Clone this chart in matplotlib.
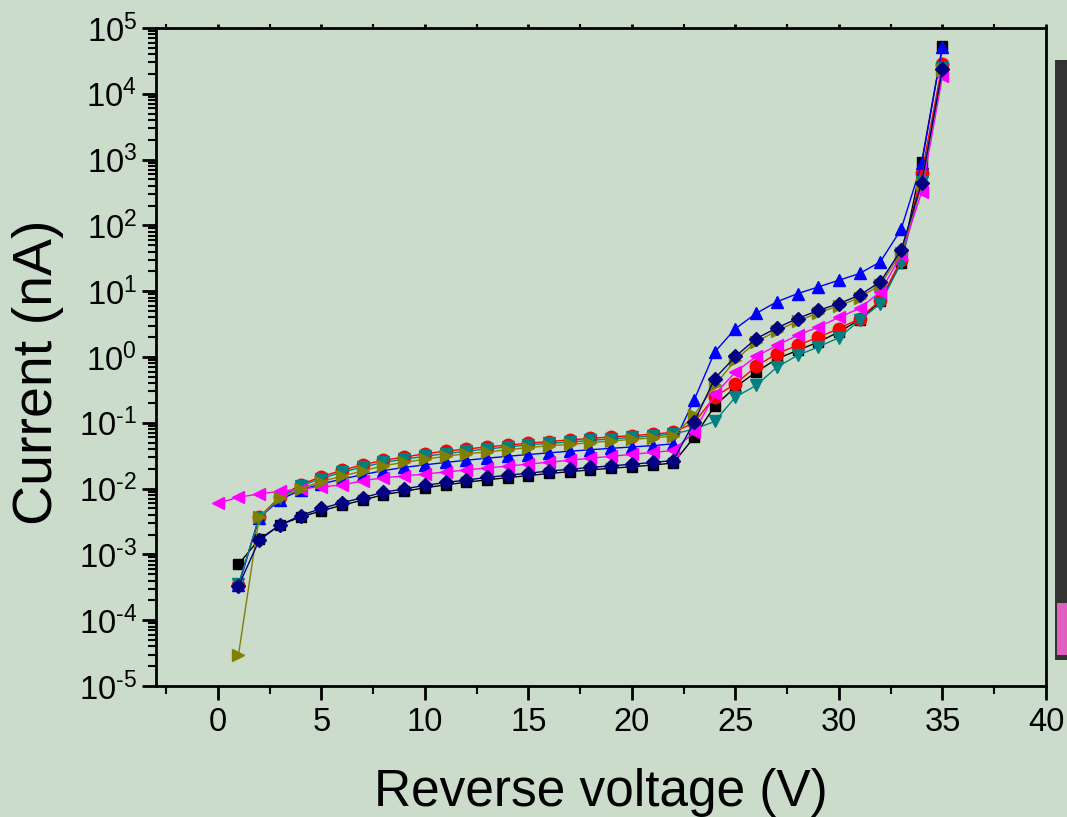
import numpy as np
import matplotlib.pyplot as plt
from matplotlib.patches import Rectangle
from matplotlib.ticker import FuncFormatter

plt.rcParams['font.family'] = ['Liberation Sans', 'DejaVu Sans']
plt.rcParams['mathtext.fontset'] = 'custom'
plt.rcParams['mathtext.rm'] = 'Liberation Sans'
plt.rcParams['axes.unicode_minus'] = False

bg = "#CBDCCB"

# reverse voltage (V)
v = list(range(1, 36))
v_mag = list(range(0, 36))

# current (nA) per sample
i_black = [7.1e-4, 0.0017, 0.0028, 0.0037, 0.0046, 0.0056, 0.0067, 0.0081, 0.0091, 0.0103,
           0.0114, 0.0125, 0.0136, 0.0147, 0.0158, 0.0170, 0.0181, 0.0193, 0.0204, 0.0215,
           0.0228, 0.0245, 0.060, 0.18, 0.35, 0.59, 0.94, 1.26, 1.69, 2.4,
           3.7, 7.0, 27, 930, 53000]
i_red = [3.4e-4, 0.0037, 0.0075, 0.0115, 0.0152, 0.0190, 0.0230, 0.0270, 0.0300, 0.0340,
         0.0370, 0.0400, 0.0430, 0.0460, 0.0490, 0.0520, 0.0550, 0.0580, 0.0610, 0.0640,
         0.0670, 0.0720, 0.10, 0.25, 0.39, 0.72, 1.13, 1.5, 2.0, 2.7,
         3.85, 7.3, 30, 620, 28700]
i_blue = [3.4e-4, 0.0036, 0.0068, 0.0095, 0.0118, 0.0140, 0.0163, 0.0188, 0.0210, 0.0230,
          0.0250, 0.0270, 0.0290, 0.0310, 0.0330, 0.0350, 0.0370, 0.0390, 0.0410, 0.0430,
          0.0450, 0.0480, 0.22, 1.19, 2.7, 4.6, 6.9, 9.2, 11.6, 14.7,
          18.6, 28, 87, 880, 51500]
i_teal = [3.5e-4, 0.0036, 0.0073, 0.0110, 0.0142, 0.0178, 0.0213, 0.0250, 0.0280, 0.0310,
          0.0340, 0.0370, 0.0400, 0.0430, 0.0460, 0.0490, 0.0510, 0.0540, 0.0570, 0.0600,
          0.0630, 0.0680, 0.080, 0.105, 0.246, 0.37, 0.70, 1.06, 1.42, 1.97,
          3.6, 6.5, 27, 460, 24700]
i_magenta = [0.0060, 0.0074, 0.0083, 0.0091, 0.0099, 0.0107, 0.0113, 0.0132, 0.0146, 0.0156,
             0.0167, 0.0179, 0.0192, 0.0206, 0.0220, 0.0236, 0.0252, 0.0270, 0.0290, 0.0310,
             0.0332, 0.0355, 0.0380, 0.072, 0.27, 0.59, 1.02, 1.5, 2.14, 2.86,
             4.0, 5.5, 9.8, 35, 326, 18400]
i_olive = [3.0e-5, 0.0037, 0.0072, 0.0100, 0.0128, 0.0155, 0.0185, 0.0224, 0.0250, 0.0280,
           0.0310, 0.0340, 0.0360, 0.0390, 0.0420, 0.0450, 0.0470, 0.0500, 0.0530, 0.0560,
           0.0590, 0.0630, 0.13, 0.37, 0.9, 1.7, 2.5, 3.5, 4.7, 6.0,
           8.0, 12.5, 38, 420, 22700]
i_navy = [3.3e-4, 0.00165, 0.0028, 0.0039, 0.0050, 0.0061, 0.0073, 0.0088, 0.0099, 0.0112,
          0.0124, 0.0135, 0.0148, 0.0160, 0.0172, 0.0185, 0.0197, 0.0210, 0.0222, 0.0235,
          0.0250, 0.0267, 0.102, 0.47, 1.02, 1.9, 2.77, 3.85, 5.1, 6.5,
          8.7, 13.9, 42, 447, 24000]

series = [
    (v, i_black, "#000000", "s"),
    (v, i_red, "#FF0000", "o"),
    (v, i_blue, "#0000FF", "^"),
    (v, i_teal, "#008080", "v"),
    (v_mag, i_magenta, "#FF00FF", "<"),
    (v, i_olive, "#808000", ">"),
    (v, i_navy, "#000080", "D"),
]

fig = plt.figure(figsize=(10.67, 8.17), dpi=100, facecolor=bg)
ax = fig.add_axes([0.1459, 0.1603, 0.8344, 0.8054])
ax.set_facecolor(bg)

for x, y, c, m in series:
    ms = 7.5 if m in ("D", "s") else 9
    ax.plot(x, y, color=c, marker=m, markersize=ms, markeredgecolor=c,
            linewidth=1.0)

ax.set_yscale("log")
ax.set_ylim(1e-5, 1e5)
ax.set_xlim(-3, 40)

for s in ax.spines.values():
    s.set_linewidth(2)
ax.tick_params(which="major", direction="out", length=10, width=2, labelsize=23.5)
ax.tick_params(which="minor", direction="out", length=6, width=1.5)
ax.tick_params(axis="x", which="both", top=True, pad=5)

ax.set_xticks([0, 5, 10, 15, 20, 25, 30, 35, 40])
ax.set_xticks(np.arange(-2.5, 40, 5), minor=True)
ax.set_yticks([10.0 ** k for k in range(-5, 6)])
ax.set_yticks([m * 10.0 ** k for k in range(-5, 5) for m in range(2, 10)], minor=True)
ax.yaxis.set_major_formatter(FuncFormatter(
    lambda y, _: r"$\mathdefault{10^{%s}}$" % (r"\text{-}%d" % -round(np.log10(y))
                                              if y < 1 else "%d" % round(np.log10(y)))))
ax.yaxis.set_minor_formatter(FuncFormatter(lambda y, _: ""))
for t in ax.xaxis.get_major_ticks() + ax.xaxis.get_minor_ticks():
    t.tick2line.set_markersize(3)

ax.set_xlabel("Reverse voltage (V)", fontsize=37, labelpad=22)
ax.set_ylabel("Current (nA)", fontsize=40)
ax.yaxis.set_label_coords(-0.103, 0.477)

# dark strip at the right edge
fig.patches.append(Rectangle((1055 / 1067, 1 - 660 / 817), 12 / 1067, 600 / 817,
                             transform=fig.transFigure, facecolor="#333333",
                             edgecolor="none"))
fig.patches.append(Rectangle((1057 / 1067, 1 - 655 / 817), 10 / 1067, 52 / 817,
                             transform=fig.transFigure, facecolor="#E060C0",
                             edgecolor="none"))

fig.savefig("out.png", dpi=100, facecolor=bg)
